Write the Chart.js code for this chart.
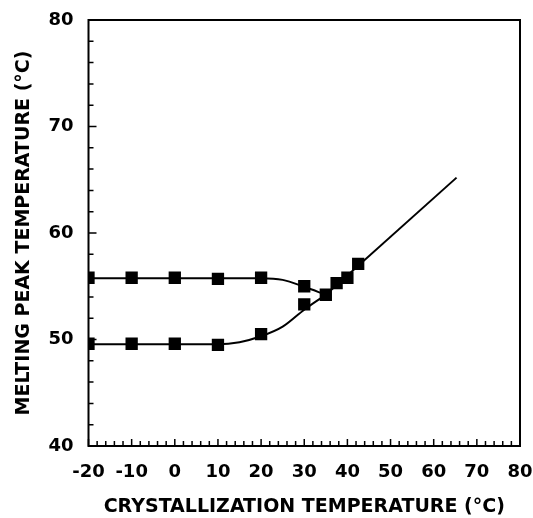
<!DOCTYPE html>
<html>
<head>
<meta charset="utf-8">
<script src="https://cdn.jsdelivr.net/npm/chart.js@4.4.1/dist/chart.umd.min.js"></script>
<style>
  html, body { margin: 0; padding: 0; background: #fff; }
  #wrap { width: 533px; height: 518px; }
</style>
</head>
<body>
<div id="wrap"><canvas id="myChart" width="533" height="518"></canvas></div>
<script>
  // measured squares
  var upperX = [-20, -10, 0, 10, 20, 30];
  var upperY = [55.8, 55.8, 55.8, 55.7, 55.8, 55.0];
  var lowerX = [-20, -10, 0, 10, 20, 30];
  var lowerY = [49.6, 49.6, 49.6, 49.5, 50.5, 53.3];
  var mergedX = [35, 37.5, 40, 42.5];
  var mergedY = [54.2, 55.3, 55.8, 57.1];

  // fitted curves
  var upperCurveX = [-20, 20, 25, 30, 35];
  var upperCurveY = [55.75, 55.75, 55.6, 54.95, 54.2];
  var lowerCurveX = [-20, 10, 15, 20, 25, 30, 35];
  var lowerCurveY = [49.55, 49.55, 49.75, 50.3, 51.2, 52.8, 54.2];
  var lineX = [35, 65.3];
  var lineY = [54.2, 65.2];

  // axis ticks
  var xTicks = [-20, -10, 0, 10, 20, 30, 40, 50, 60, 70, 80];
  var yTicks = [40, 50, 60, 70, 80];

  function pts(xs, ys) {
    return xs.map(function (x, i) { return { x: x, y: ys[i] }; });
  }

  var fontFam = '"DejaVu Sans", sans-serif';

  // frame + inward tick marks
  var framePlugin = {
    id: 'frame',
    afterDraw: function (chart) {
      var a = chart.chartArea, ctx = chart.ctx;
      var sx = chart.scales.x, sy = chart.scales.y;
      ctx.save();
      ctx.strokeStyle = '#000';
      ctx.lineWidth = 2;
      ctx.strokeRect(a.left, a.top, a.right - a.left, a.bottom - a.top);
      ctx.lineWidth = 1.5;
      ctx.beginPath();
      for (var v = yTicks[0]; v <= yTicks[yTicks.length - 1]; v += 2) {
        var py = sy.getPixelForValue(v);
        var len = (v % 10 === 0) ? 8 : 5;
        ctx.moveTo(a.left, py); ctx.lineTo(a.left + len, py);
      }
      for (var u = xTicks[0]; u <= xTicks[xTicks.length - 1]; u += 2) {
        var px = sx.getPixelForValue(u);
        var l2 = (u % 10 === 0) ? 7 : 5;
        ctx.moveTo(px, a.bottom); ctx.lineTo(px, a.bottom - l2);
      }
      ctx.stroke();
      ctx.restore();
    }
  };

  var ctx = document.getElementById('myChart').getContext('2d');
  var myChart = new Chart(ctx, {
    type: 'scatter',
    data: {
      datasets: [
        { data: pts(upperCurveX, upperCurveY), showLine: true, pointRadius: 0, borderColor: '#000', borderWidth: 2, cubicInterpolationMode: 'monotone' },
        { data: pts(lowerCurveX, lowerCurveY), showLine: true, pointRadius: 0, borderColor: '#000', borderWidth: 2, cubicInterpolationMode: 'monotone' },
        { data: pts(lineX, lineY), showLine: true, pointRadius: 0, borderColor: '#000', borderWidth: 2 },
        { data: pts(upperX, upperY), pointStyle: 'rect', pointRadius: 8.7, backgroundColor: '#000', borderWidth: 0 },
        { data: pts(lowerX, lowerY), pointStyle: 'rect', pointRadius: 8.7, backgroundColor: '#000', borderWidth: 0 },
        { data: pts(mergedX, mergedY), pointStyle: 'rect', pointRadius: 8.7, backgroundColor: '#000', borderWidth: 0 }
      ]
    },
    options: {
      responsive: false,
      animation: false,
      layout: { padding: { left: 0, right: 13, top: 20, bottom: 0 } },
      plugins: { legend: { display: false }, tooltip: { enabled: false } },
      scales: {
        x: {
          type: 'linear', min: -20, max: 80,
          afterBuildTicks: function (s) { s.ticks = xTicks.map(function (v) { return { value: v }; }); },
          afterFit: function (s) { s.height = 72; s.paddingLeft = 0; s.paddingRight = 0; },
          grid: { display: false, drawTicks: false },
          border: { display: false },
          ticks: { color: '#000', padding: 16, maxRotation: 0, autoSkip: false, font: { family: fontFam, size: 18, weight: 'bold' } },
          title: { display: true, text: 'CRYSTALLIZATION TEMPERATURE (°C)', color: '#000', padding: { top: 0, bottom: 0 }, font: { family: fontFam, size: 19, weight: 'bold' } }
        },
        y: {
          type: 'linear', min: 40, max: 80,
          afterBuildTicks: function (s) { s.ticks = yTicks.map(function (v) { return { value: v }; }); },
          afterFit: function (s) { s.width = 88.5; s.paddingTop = 0; s.paddingBottom = 0; },
          grid: { display: false, drawTicks: false },
          border: { display: false },
          ticks: { color: '#000', padding: 15, autoSkip: false, font: { family: fontFam, size: 18, weight: 'bold' } },
          title: { display: true, text: 'MELTING PEAK TEMPERATURE (°C)', color: '#000', padding: { top: 13, bottom: 0 }, font: { family: fontFam, size: 19, weight: 'bold' } }
        }
      }
    },
    plugins: [framePlugin]
  });
</script>
</body>
</html>
